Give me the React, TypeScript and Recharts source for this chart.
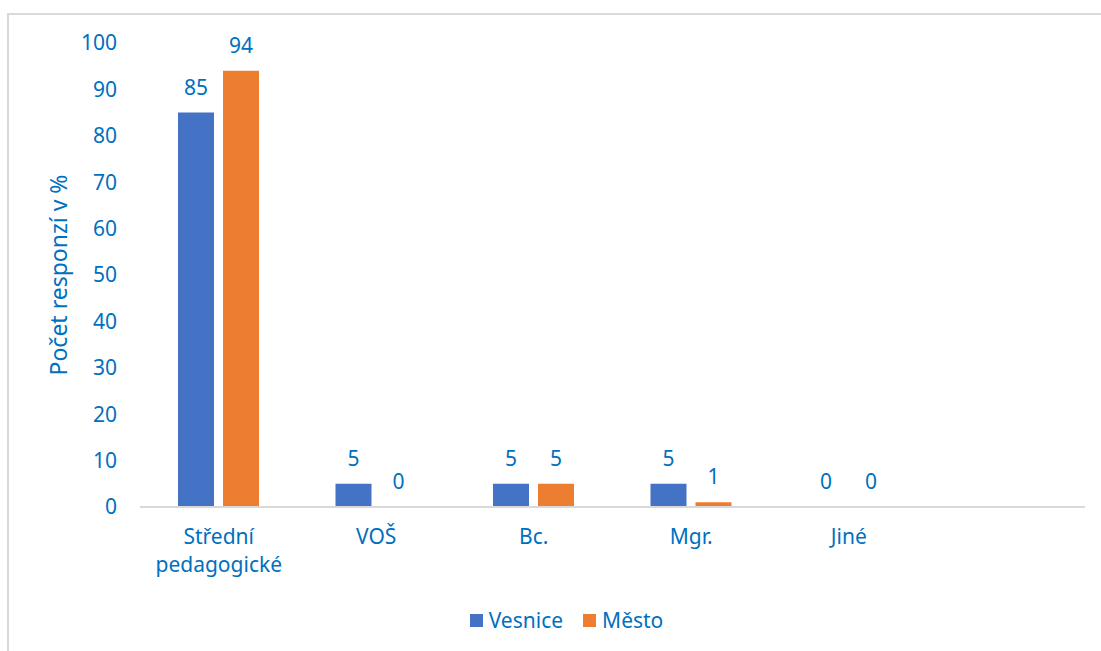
import { Bar, BarChart, LabelList, Legend, Rectangle, XAxis, YAxis } from "recharts";

const categories = ["Střední pedagogické", "VOŠ", "Bc.", "Mgr.", "Jiné", ""];
const vesnice = [85, 5, 5, 5, 0, null];
const mesto = [94, 0, 5, 1, 0, null];
const yTicks = [0, 10, 20, 30, 40, 50, 60, 70, 80, 90, 100];

const data = categories.map((name, i) => ({
  name,
  vesnice: vesnice[i],
  mesto: mesto[i],
}));

const TEXT = "#0070C0";
const FONT = "'Noto Sans', sans-serif";
const FS = 21;

function CategoryTick(props: any) {
  const { x, y, payload } = props;
  const words = String(payload.value).split(" ");
  return (
    <text x={x} y={y} textAnchor="middle" fill={TEXT} fontSize={FS} fontFamily={FONT}>
      {words.map((w, i) => (
        <tspan key={i} x={x} dy={i === 0 ? 29 : 28}>
          {w}
        </tspan>
      ))}
    </text>
  );
}

// zero values still need a label, so the bar gets a tiny min size and the shape skips it
function makeShape(key: string) {
  return (props: any) => {
    const v = props.payload ? props.payload[key] : null;
    if (!v) return <g />;
    return <Rectangle x={props.x} y={props.y} width={props.width} height={props.height} fill={props.fill} />;
  };
}

function ValueLabel(p: any) {
  if (p.value === null || p.value === undefined) return null;
  return (
    <text
      x={Number(p.x) + Number(p.width) / 2}
      y={Number(p.y) - 18}
      textAnchor="middle"
      fill={TEXT}
      fontSize={FS}
      fontFamily={FONT}
    >
      {p.value}
    </text>
  );
}

function LegendContent() {
  const items = [
    { label: "Vesnice", color: "#4472C4" },
    { label: "Město", color: "#ED7D31" },
  ];
  return (
    <div style={{ display: "flex", justifyContent: "center", height: 24, alignItems: "center", gap: 20 }}>
      {items.map((it) => (
        <div key={it.label} style={{ display: "flex", alignItems: "center", gap: 6 }}>
          <span style={{ width: 13, height: 13, background: it.color, display: "inline-block" }} />
          <span style={{ color: TEXT, fontSize: FS, fontFamily: FONT }}>{it.label}</span>
        </div>
      ))}
    </div>
  );
}

export default function App() {
  return (
    <div style={{ position: "absolute", left: 0, top: 0, width: 1101, height: 651, overflow: "hidden", background: "#fff" }}>
      <div
        style={{
          position: "absolute",
          left: 7,
          top: 13,
          width: 1200,
          height: 800,
          borderTop: "2px solid #d9d9d9",
          borderLeft: "2px solid #d9d9d9",
        }}
      />
      <BarChart
        width={1101}
        height={651}
        data={data}
        margin={{ top: 43, right: 16, left: 20, bottom: 19 }}
        barCategoryGap={38}
        barGap={9}
        style={{ position: "absolute", left: 0, top: 0 }}
      >
        <XAxis
          dataKey="name"
          axisLine={{ stroke: "#d9d9d9", strokeWidth: 2 }}
          tickLine={false}
          tick={<CategoryTick />}
          height={101}
          interval={0}
        />
        <YAxis
          domain={[0, 100]}
          ticks={yTicks}
          width={120}
          axisLine={false}
          tickLine={false}
          tickSize={0}
          tickMargin={23}
          tick={{ fill: TEXT, fontSize: FS, fontFamily: FONT }}
          label={{
            value: "Počet responzí v %",
            content: (p: any) => {
              const vb = p.viewBox;
              const cx = vb.x + 38;
              const cy = vb.y + vb.height / 2;
              return (
                <text
                  x={cx}
                  y={cy}
                  transform={`rotate(-90 ${cx} ${cy})`}
                  textAnchor="middle"
                  dominantBaseline="central"
                  fill={TEXT}
                  fontSize={23}
                  fontFamily={FONT}
                >
                  Počet responzí v %
                </text>
              );
            },
          }}
        />
        <Legend verticalAlign="bottom" content={<LegendContent />} wrapperStyle={{ left: 0, width: 1101, paddingLeft: 16 }} />
        <Bar
          dataKey="vesnice"
          name="Vesnice"
          fill="#4472C4"
          minPointSize={0.5}
          shape={makeShape("vesnice")}
          isAnimationActive={false}
        >
          <LabelList dataKey="vesnice" content={<ValueLabel />} />
        </Bar>
        <Bar
          dataKey="mesto"
          name="Město"
          fill="#ED7D31"
          minPointSize={0.5}
          shape={makeShape("mesto")}
          isAnimationActive={false}
        >
          <LabelList dataKey="mesto" content={<ValueLabel />} />
        </Bar>
      </BarChart>
    </div>
  );
}
